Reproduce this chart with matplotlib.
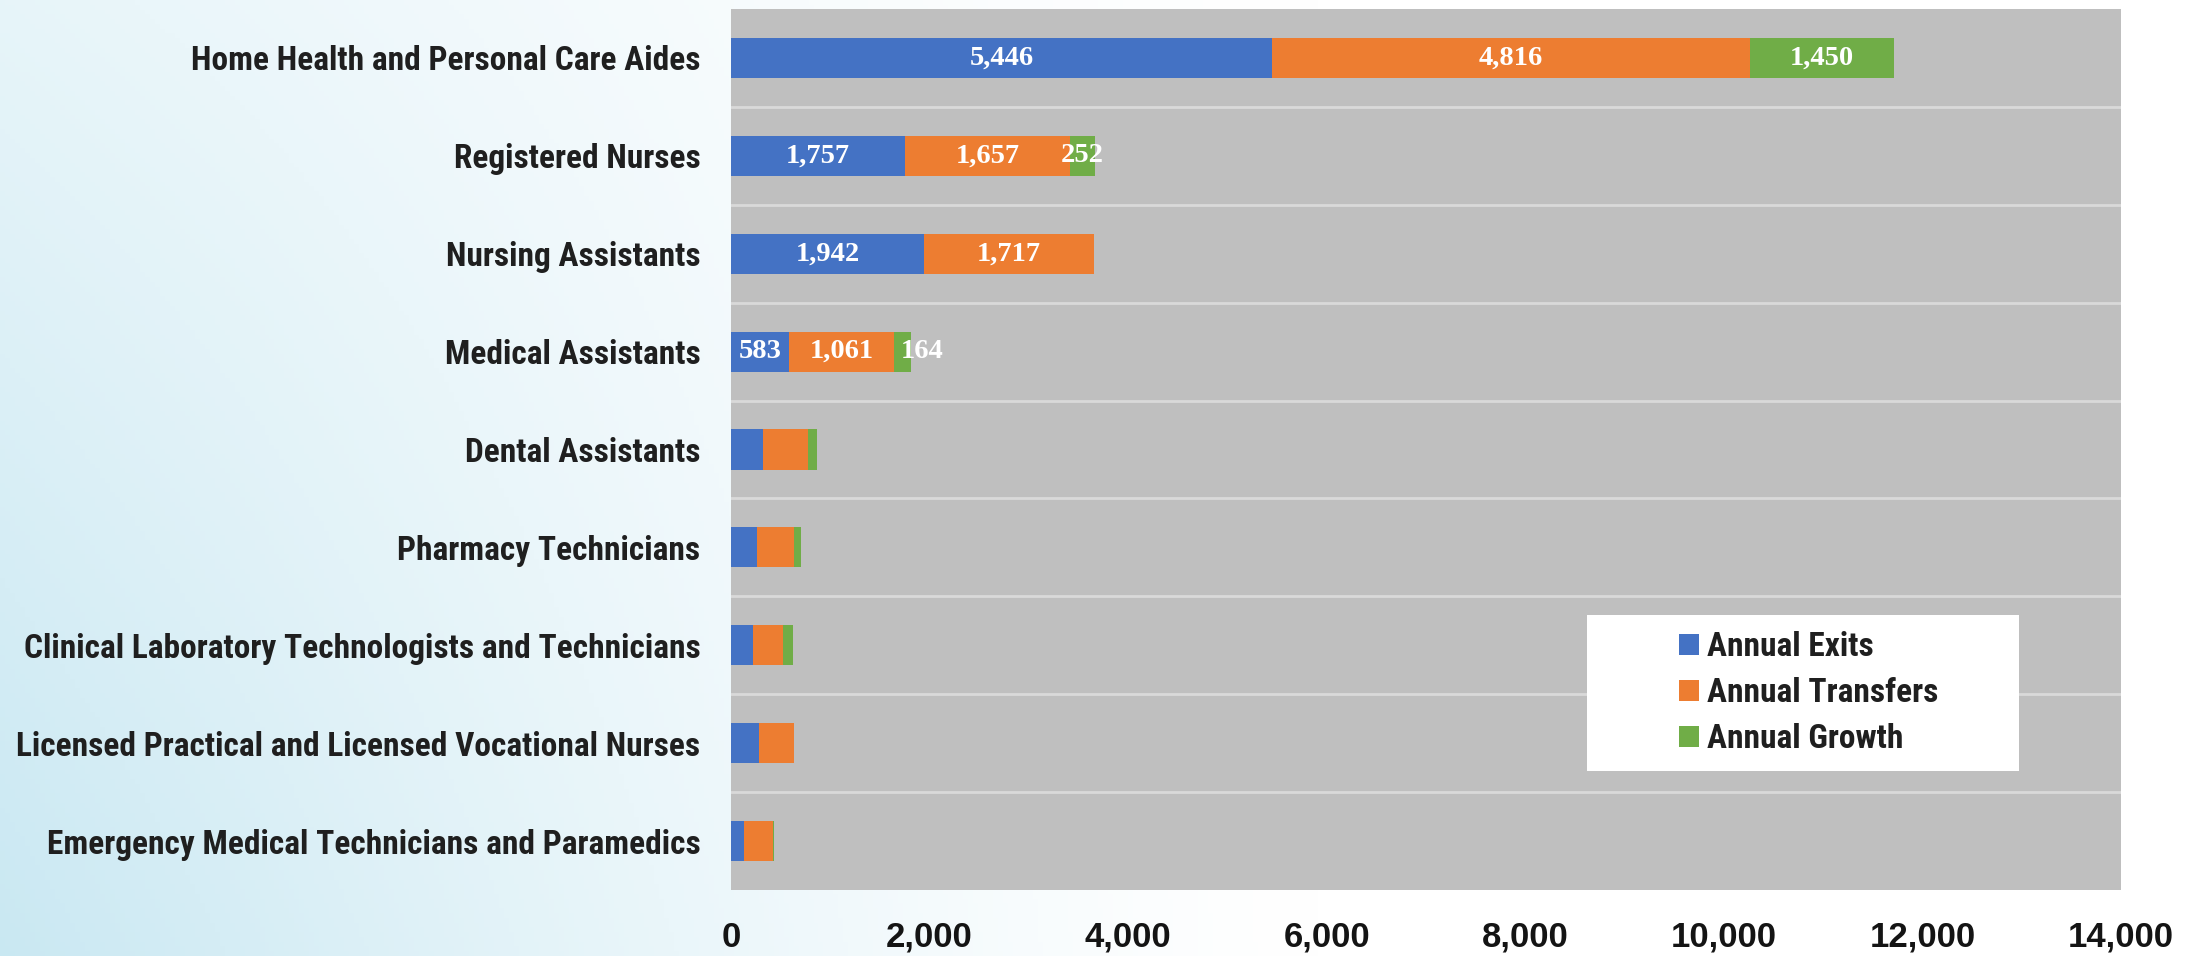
import numpy as np
import matplotlib
matplotlib.use("Agg")
import matplotlib.pyplot as plt
from matplotlib.patches import Rectangle, Patch
from matplotlib.ticker import FuncFormatter

# Occupations, top to bottom
occupations = [
    "Home Health and Personal Care Aides",
    "Registered Nurses",
    "Nursing Assistants",
    "Medical Assistants",
    "Dental Assistants",
    "Pharmacy Technicians",
    "Clinical Laboratory Technologists and Technicians",
    "Licensed Practical and Licensed Vocational Nurses",
    "Emergency Medical Technicians and Paramedics",
]

series_names = ["Annual Exits", "Annual Transfers", "Annual Growth"]
annual_exits = [5446, 1757, 1942, 583, 326, 266, 225, 286, 131]
annual_transfers = [4816, 1657, 1717, 1061, 448, 370, 303, 353, 289]
annual_growth = [1450, 252, 0, 164, 97, 74, 101, 0, 10]

# Only the four largest occupations carry value labels
labelled_rows = [0, 1, 2, 3]

x_ticks = [0, 2000, 4000, 6000, 8000, 10000, 12000, 14000]

colors = ["#4472C4", "#ED7D31", "#70AD47"]
label_font = ["Roboto Condensed", "Archivo Narrow", "DejaVu Sans"]
value_font = ["Liberation Serif", "DejaVu Serif"]
tick_font = ["Liberation Sans", "DejaVu Sans"]

W, H = 2196, 956
fig = plt.figure(figsize=(W / 100, H / 100), dpi=100)

# Soft blue wash on the left fading to white
bg = fig.add_axes([0, 0, 1, 1], zorder=-10)
gx = np.linspace(0, 1, 440)
gy = np.linspace(0, 1, 200)
GX, GY = np.meshgrid(gx, gy)
t = np.clip(1 - GX / 0.6, 0, 1) ** 1.3 * (0.45 + 0.55 * GY)
c_white = np.array([1.0, 1.0, 1.0])
c_blue = np.array([0.79, 0.91, 0.95])
img = c_white * (1 - t[..., None]) + c_blue * t[..., None]
bg.imshow(img, aspect="auto", extent=[0, 1, 0, 1], origin="upper")
bg.set_axis_off()

ax = fig.add_axes([731 / W, (H - 890) / H, 1390 / W, 881 / H])
ax.set_facecolor("#BFBFBF")

y = np.arange(len(occupations))
bar_h = 0.41
left = np.zeros(len(occupations))
segments = [annual_exits, annual_transfers, annual_growth]
containers = []
for vals, col, name in zip(segments, colors, series_names):
    vals = np.array(vals, dtype=float)
    bars = ax.barh(y, vals, left=left, height=bar_h, color=col, label=name,
                   zorder=3, linewidth=0)
    containers.append((bars, vals, left.copy()))
    left = left + vals

# Value labels centred in each segment
label_shift = {(2, 3): 14}  # (series, row): horizontal shift in points
for s, (bars, vals, lefts) in enumerate(containers):
    for r in labelled_rows:
        v = vals[r]
        if v <= 0:
            continue
        xc = lefts[r] + v / 2
        dx = label_shift.get((s, r), 0)
        ax.annotate(f"{int(v):,}", (xc, y[r]), xytext=(dx, 0),
                    textcoords="offset points", ha="center", va="center",
                    color="white", fontsize=20.5, fontweight="bold",
                    family=value_font, zorder=5)

ax.set_ylim(len(occupations) - 0.5, -0.5)
ax.set_xlim(0, 14000)

# Separator lines between categories
for b in np.arange(0.5, len(occupations) - 0.5, 1.0):
    ax.axhline(b, color="#D9D9D9", linewidth=2, zorder=1)

ax.set_yticks(y)
ax.set_yticklabels(occupations, fontsize=24, fontweight="bold",
                   family=label_font, color="#1f1f1f")
ax.set_xticks(x_ticks)
ax.xaxis.set_major_formatter(FuncFormatter(lambda v, p: f"{int(v):,}"))
for lab in ax.get_xticklabels():
    lab.set_fontsize(25)
    lab.set_fontweight("semibold")
    lab.set_family(tick_font)
    lab.set_color("#141414")
ax.tick_params(axis="y", length=0, pad=22)
ax.tick_params(axis="x", length=0, pad=22)
for sp in ax.spines.values():
    sp.set_visible(False)

# Legend in a white box at the lower right of the plot area
x0 = (1587 - 731) / 1390
x1 = (2019 - 731) / 1390
y_top = 1 - (615 - 9) / 881
y_bot = 1 - (771 - 9) / 881
ax.add_patch(Rectangle((x0, y_bot), x1 - x0, y_top - y_bot,
                       transform=ax.transAxes, facecolor="white",
                       edgecolor="none", zorder=6))
handles = [Patch(facecolor=c, label=n) for c, n in zip(colors, series_names)]
leg = ax.legend(handles=handles, loc="center",
                bbox_to_anchor=((x0 + x1) / 2 + 0.004, (y_top + y_bot) / 2),
                bbox_transform=ax.transAxes, frameon=False,
                prop={"family": label_font, "weight": "bold", "size": 24},
                handlelength=0.6, handleheight=0.6, handletextpad=0.25,
                labelspacing=0.42, borderpad=0)
leg.set_zorder(7)
for txt in leg.get_texts():
    txt.set_color("#1f1f1f")

fig.savefig("out.png", dpi=100)
